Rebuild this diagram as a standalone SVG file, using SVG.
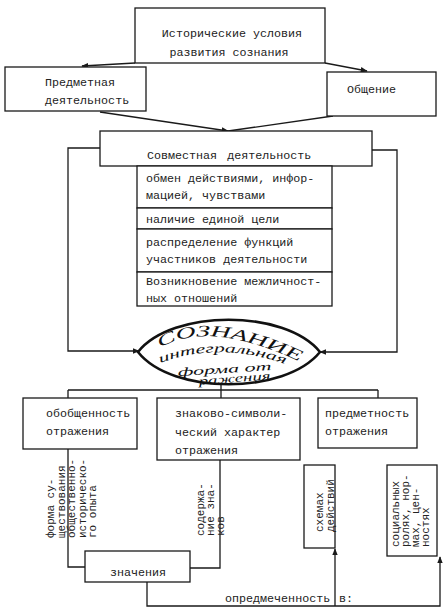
<svg xmlns="http://www.w3.org/2000/svg" width="444" height="611" viewBox="0 0 444 611">
<style>
.box{fill:#fff;stroke:#1a1a1a;stroke-width:1.3}
.ln{fill:none;stroke:#1a1a1a;stroke-width:1.3}
.t{font-family:"Liberation Mono",monospace;font-size:11.7px;fill:#222}
.v{font-family:"Liberation Mono",monospace;font-size:11px;fill:#222}
.h{font-family:"Liberation Serif",serif;font-style:italic;fill:#111}
</style>
<defs>
<marker id="ah" viewBox="0 0 10 10" refX="9" refY="5" markerWidth="7" markerHeight="7" orient="auto" markerUnits="userSpaceOnUse">
<path d="M0,1 L10,5 L0,9 Z" fill="#1a1a1a"/>
</marker>
<path id="p1" d="M160,348 Q210,318 307,365"/>
<path id="p2" d="M160,363 Q222,340 290,366"/>
<path id="p3" d="M178,376 L273,370"/>
<path id="p4" d="M199,385 L273,379"/>
</defs>
<rect width="444" height="611" fill="#fff"/>

<g id="connectors">
<path class="ln" d="M135,63 L82,66" marker-end="url(#ah)"/>
<path class="ln" d="M325,63 L367,71" marker-end="url(#ah)"/>
<path class="ln" d="M100,112 L228,131" marker-end="url(#ah)"/>
<path class="ln" d="M333,116 L228,131"/>
<path class="ln" d="M100,148 H68 V351 H139" marker-end="url(#ah)"/>
<path class="ln" d="M372,150 H397 V352 H320" marker-end="url(#ah)"/>
<path class="ln" d="M221,384 V390 M68,390 H378 M68,390 V398 M221,390 V398 M378,390 V398"/>
<path class="ln" d="M68,449 V567 H85"/>
<path class="ln" d="M190,568 H220 V460"/>
<path class="ln" d="M147,582 V606 H440 V557" marker-end="url(#ah)"/>
<path class="ln" d="M335,606 V549" marker-end="url(#ah)"/>
</g>

<g id="n-hist">
<rect class="box" x="135" y="8" width="190" height="55"/>
<text class="t" x="232" y="37" text-anchor="middle">Исторические условия</text>
<text class="t" x="229" y="56" text-anchor="middle">развития сознания</text>
</g>

<g id="n-predm">
<rect class="box" x="5" y="67" width="141" height="44"/>
<text class="t" x="45" y="86">Предметная</text>
<text class="t" x="45" y="104">деятельность</text>
</g>

<g id="n-obsh">
<rect class="box" x="327" y="72" width="109" height="44"/>
<text class="t" x="347" y="93">Общение</text>
</g>

<g id="n-sovm">
<rect class="box" x="100" y="131" width="272" height="35"/>
<text class="t" x="147" y="159">Совместная<tspan dx="10">деятельность</tspan></text>
</g>

<g id="n-features">
<rect class="box" x="137" y="166" width="195" height="42"/>
<text class="t" x="146" y="182">обмен действиями, инфор-</text>
<text class="t" x="146" y="199">мацией, чувствами</text>
<rect class="box" x="137" y="208" width="195" height="21"/>
<text class="t" x="146" y="223">наличие единой цели</text>
<rect class="box" x="137" y="229" width="195" height="43"/>
<text class="t" x="146" y="246">распределение функций</text>
<text class="t" x="146" y="263">участников деятельности</text>
<rect class="box" x="137" y="272" width="195" height="34"/>
<text class="t" x="146" y="285">Возникновение межличност-</text>
<text class="t" x="146" y="302">ных отношений</text>
</g>

<g id="n-soznanie">
<path d="M138,352 C172,309 285,309 320,352 C285,395 172,395 138,352 Z" fill="#fff" stroke="#111" stroke-width="2.6"/>
<text class="h" font-size="16"><textPath href="#p1" textLength="146" lengthAdjust="spacingAndGlyphs">СОЗНАНИЕ</textPath></text>
<text class="h" font-size="12.5"><textPath href="#p2" textLength="128" lengthAdjust="spacingAndGlyphs">интегральная</textPath></text>
<text class="h" font-size="11.5"><textPath href="#p3" textLength="94" lengthAdjust="spacingAndGlyphs">форма от</textPath></text>
<text class="h" font-size="11.5"><textPath href="#p4" textLength="72" lengthAdjust="spacingAndGlyphs">ражения</textPath></text>
</g>

<g id="n-obobsh">
<rect class="box" x="23" y="398" width="114" height="51"/>
<text class="t" x="46" y="417">обобщенность</text>
<text class="t" x="46" y="435">отражения</text>
</g>

<g id="n-znak">
<rect class="box" x="157" y="398" width="143" height="62"/>
<text class="t" x="175" y="417">знаково-символи-</text>
<text class="t" x="175" y="436">ческий характер</text>
<text class="t" x="175" y="454">отражения</text>
</g>

<g id="n-predmetn">
<rect class="box" x="318" y="398" width="99" height="50"/>
<text class="t" x="325" y="417">предметность</text>
<text class="t" x="325" y="435">отражения</text>
</g>

<g id="l-forma">
<text class="v" transform="translate(54,538) rotate(-90)"><tspan x="0" y="0">форма су-</tspan><tspan x="0" y="10.5">ществования</tspan><tspan x="0" y="21">общественно-</tspan><tspan x="0" y="31.5">историческо-</tspan><tspan x="0" y="42">го опыта</tspan></text>
</g>

<g id="l-soderzh">
<text class="v" transform="translate(204,536) rotate(-90)"><tspan x="0" y="0">содержа-</tspan><tspan x="0" y="10">ние зна-</tspan><tspan x="0" y="19.5">ков</tspan></text>
</g>

<g id="n-znachenia">
<rect class="box" x="85" y="551" width="105" height="31"/>
<text class="t" x="138" y="576" text-anchor="middle">значения</text>
</g>

<g id="n-skhemy">
<rect class="box" x="304" y="465" width="31" height="83"/>
<text class="v" transform="translate(323,532) rotate(-90)"><tspan x="0" y="0">схемах</tspan><tspan x="0" y="10.5">действий</tspan></text>
</g>

<g id="n-soc">
<rect class="box" x="387" y="465" width="50" height="91"/>
<text class="v" transform="translate(399,547) rotate(-90)"><tspan x="0" y="0">социальных</tspan><tspan x="0" y="10">ролях, нор-</tspan><tspan x="0" y="20">мах, цен-</tspan><tspan x="0" y="30">ностях</tspan></text>
</g>

<g id="l-opredm">
<text class="t" x="225" y="602">опредмеченность</text>
<text class="t" x="339" y="602">в:</text>
</g>
</svg>
